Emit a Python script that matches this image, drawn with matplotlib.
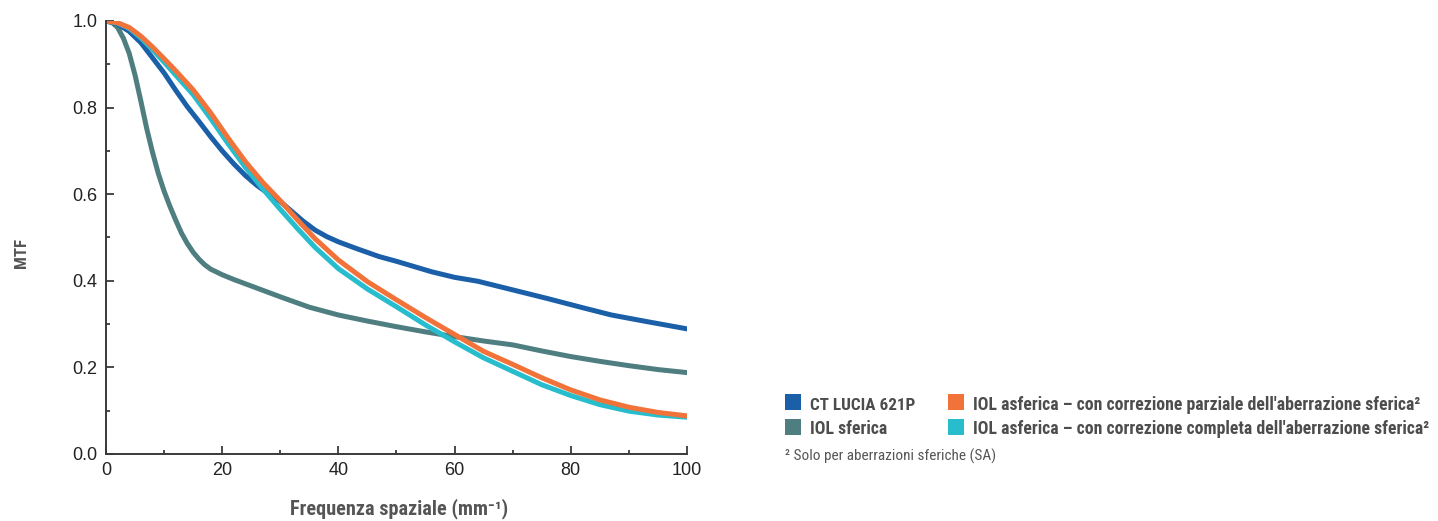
import matplotlib.pyplot as plt
import matplotlib.font_manager as fm
from matplotlib.patches import Rectangle
from matplotlib.ticker import MultipleLocator

# --- dati ---
x_lucia = [0, 2, 4, 6, 8, 10, 12, 14, 16, 18, 20, 22, 24, 26, 28, 30, 32, 34, 36, 38, 40,
           43, 47, 50, 53, 56, 60, 64, 70, 76, 82, 87, 93, 100]
mtf_lucia = [1.0, 0.993, 0.976, 0.95, 0.915, 0.88, 0.84, 0.802, 0.768, 0.733, 0.70, 0.67,
             0.643, 0.62, 0.601, 0.583, 0.56, 0.537, 0.517, 0.502, 0.49, 0.475, 0.456,
             0.445, 0.433, 0.421, 0.408, 0.399, 0.379, 0.359, 0.338, 0.321, 0.306, 0.289]

x_asf = [0, 2, 4, 6, 8, 10, 12, 15, 18, 21, 24, 27, 30, 33, 36, 40, 45, 50, 55, 60, 65, 70,
         75, 80, 85, 90, 95, 100]
mtf_parziale = [1.0, 0.996, 0.985, 0.965, 0.94, 0.913, 0.885, 0.841, 0.788, 0.73, 0.675,
                0.627, 0.585, 0.54, 0.497, 0.448, 0.398, 0.356, 0.315, 0.276, 0.237, 0.207,
                0.176, 0.148, 0.125, 0.108, 0.096, 0.088]
mtf_completa = [1.0, 0.995, 0.983, 0.961, 0.934, 0.905, 0.875, 0.83, 0.775, 0.717, 0.662,
                0.612, 0.565, 0.52, 0.477, 0.428, 0.381, 0.34, 0.298, 0.259, 0.222, 0.191,
                0.16, 0.135, 0.114, 0.099, 0.09, 0.085]

x_sferica = [0, 1, 2, 3, 4, 5, 6, 7, 8, 9, 10, 11, 12, 13, 14, 15, 16, 17, 18, 20, 22, 25,
             30, 35, 40, 45, 50, 55, 60, 65, 70, 75, 80, 85, 90, 95, 100]
mtf_sferica = [1.0, 0.997, 0.985, 0.96, 0.925, 0.875, 0.815, 0.752, 0.697, 0.648, 0.607,
               0.572, 0.54, 0.51, 0.486, 0.466, 0.45, 0.437, 0.427, 0.414, 0.403, 0.388,
               0.363, 0.339, 0.321, 0.307, 0.294, 0.282, 0.271, 0.261, 0.252, 0.238, 0.225,
               0.214, 0.204, 0.195, 0.188]

labels = ['CT LUCIA 621P', 'IOL sferica',
          "IOL asferica – con correzione parziale dell'aberrazione sferica²",
          "IOL asferica – con correzione completa dell'aberrazione sferica²"]
colori = ['#1b5fa8', '#4e7e80', '#f1733a', '#27bdcc']
nota = '² Solo per aberrazioni sferiche (SA)'
titolo_x = 'Frequenza spaziale (mm⁻¹)'

plt.rcParams['font.family'] = ['Liberation Sans', 'DejaVu Sans']

# cerca un font condensato tra quelli installati
fam_cond, stretch_cond = 'DejaVu Sans', 'normal'
for f in fm.fontManager.ttflist:
    n = f.name.lower()
    if 'narrow' in n or 'condensed' in n or f.stretch in ('condensed', 'semi-condensed'):
        fam_cond, stretch_cond = f.name, f.stretch
        if 'liberation' in n or 'roboto' in n:
            break
fam_cond = [fam_cond, 'DejaVu Sans']

W, H = 1438, 521


def fx(px):
    return px / W


def fy(py):
    return 1 - py / H


fig = plt.figure(figsize=(W / 100, H / 100), dpi=100)
ax = fig.add_axes([fx(106), fy(454), fx(687) - fx(106), fy(21) - fy(454)])

lw = 3.6
ax.plot(x_sferica, mtf_sferica, color=colori[1], lw=lw, solid_joinstyle='round')
ax.plot(x_lucia, mtf_lucia, color=colori[0], lw=lw, solid_joinstyle='round')
ax.plot(x_asf, mtf_completa, color=colori[3], lw=lw, solid_joinstyle='round')
ax.plot(x_asf, mtf_parziale, color=colori[2], lw=lw, solid_joinstyle='round')

ax.set_xlim(0, 100)
ax.set_ylim(0, 1.0)
ax.xaxis.set_major_locator(MultipleLocator(20))
ax.xaxis.set_minor_locator(MultipleLocator(10))
ax.yaxis.set_major_locator(MultipleLocator(0.2))
ax.yaxis.set_minor_locator(MultipleLocator(0.1))
ax.yaxis.set_major_formatter(plt.FormatStrFormatter('%.1f'))

for s in ['top', 'right']:
    ax.spines[s].set_visible(False)
for s in ['left', 'bottom']:
    ax.spines[s].set_color('#3a3a3a')
    ax.spines[s].set_linewidth(1.4)

ax.tick_params(which='major', direction='in', length=6, width=1.3, color='#3a3a3a',
               labelsize=13, labelcolor='#222222', pad=6)
ax.tick_params(which='minor', direction='in', length=3, width=1.3, color='#3a3a3a')

grigio = '#4d4d4d'
testi = []  # (testo, larghezza in pixel nel riferimento)

t = fig.text(fx(399.5), fy(514), titolo_x, family=fam_cond, stretch=stretch_cond,
             fontweight='bold', fontsize=13, color='#555555', ha='center', va='baseline')
testi.append((t, 217))

t = fig.text(fx(21.5), fy(253), 'MTF', family=fam_cond, stretch=stretch_cond,
             fontweight='bold', fontsize=12, color='#555555', rotation=90,
             ha='center', va='center')
testi.append((t, None))

# legenda disegnata a mano
col_x = [785, 948]
righe_y = [409.7, 434.3]
pos = [(0, 0), (0, 1), (1, 0), (1, 1)]
larghezze = [105, None, 447, None]
for i, (c, r) in enumerate(pos):
    x0 = col_x[c]
    yb = righe_y[r]
    fig.add_artist(Rectangle((fx(x0), fy(yb - 15.5 + 16)), 16 / W, 16 / H,
                             transform=fig.transFigure, facecolor=colori[i],
                             edgecolor='none'))
    t = fig.text(fx(x0 + 25), fy(yb), labels[i], family=fam_cond, stretch=stretch_cond,
                 fontweight='bold', fontsize=11, color=grigio, ha='left', va='baseline')
    testi.append((t, larghezze[i]))

t = fig.text(fx(785), fy(461), nota, family=fam_cond, stretch=stretch_cond,
             fontsize=9.5, color='#555555', ha='left', va='baseline')
testi.append((t, 212))

# adatta la dimensione dei testi alla larghezza del riferimento
fig.canvas.draw()
r = fig.canvas.get_renderer()
scala_leg = None
for t, w in testi:
    if w is None:
        continue
    k = w / t.get_window_extent(r).width
    t.set_fontsize(t.get_fontsize() * k)
    if t.get_text() == labels[2]:
        scala_leg = k
for t, w in testi:
    if t.get_text() in (labels[1], labels[3]) and scala_leg:
        t.set_fontsize(t.get_fontsize() * scala_leg)
    if t.get_text() == 'MTF':
        fig.canvas.draw()
        h = t.get_window_extent(r).height
        t.set_fontsize(t.get_fontsize() * 30 / h)

fig.savefig('out.png', dpi=100)
